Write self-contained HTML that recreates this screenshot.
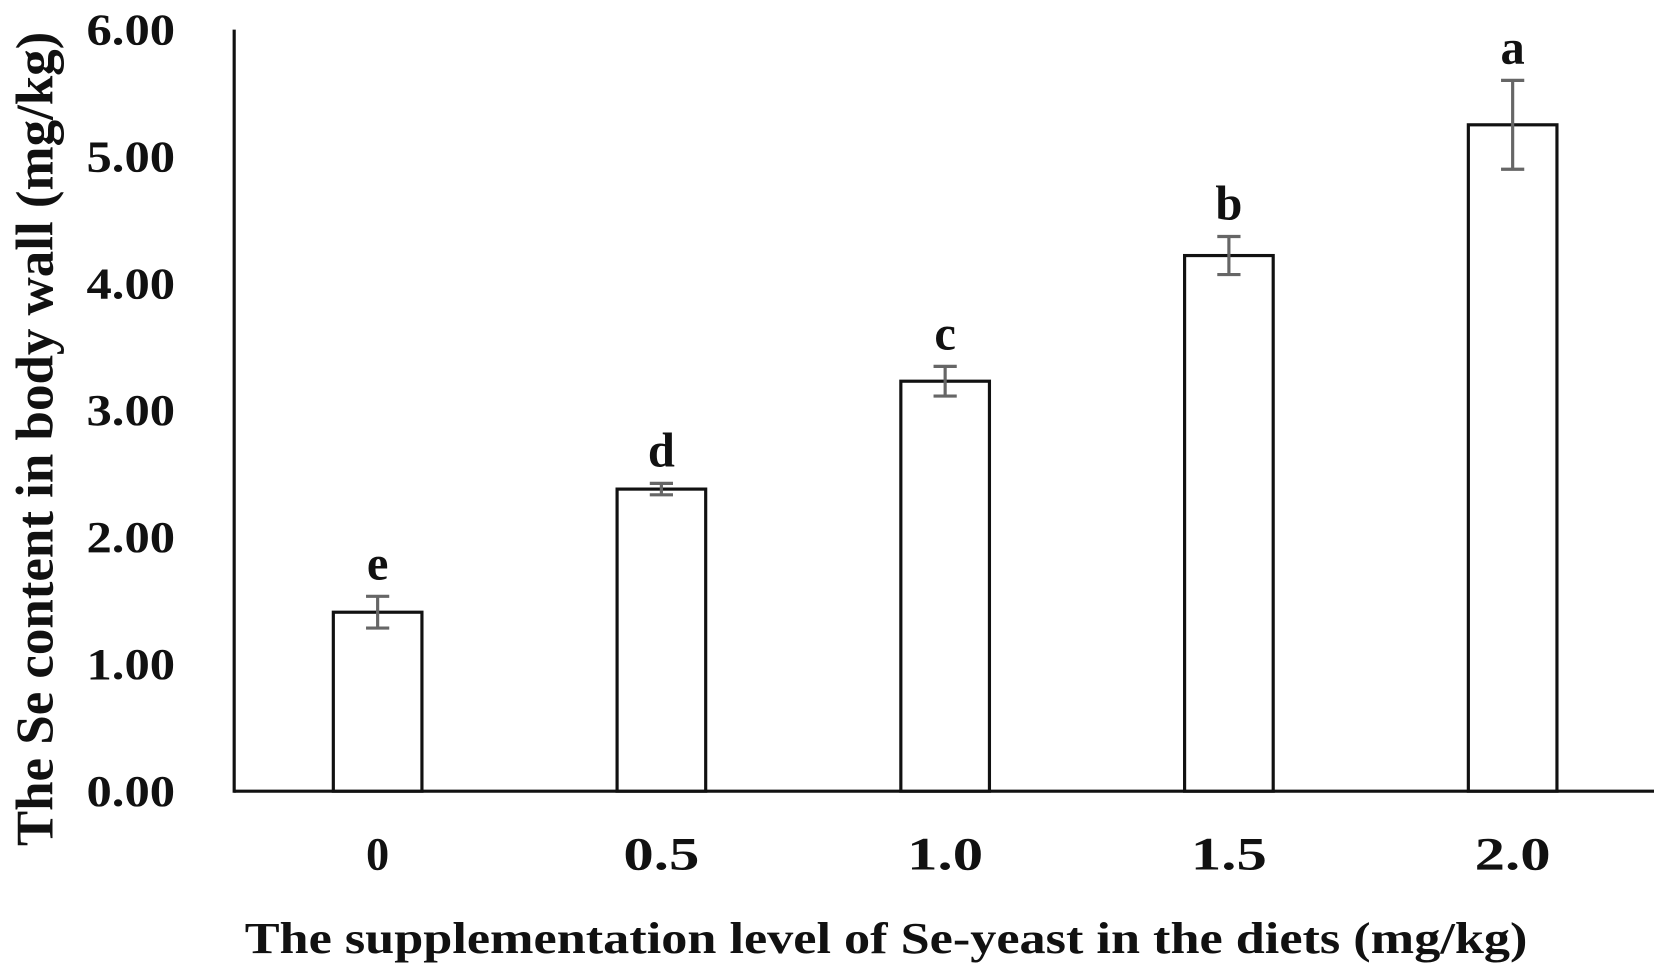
<!DOCTYPE html>
<html><head><meta charset="utf-8"><style>
html,body{margin:0;padding:0;background:#fff;}
svg{display:block;}
text{font-family:"Liberation Serif",serif;font-weight:bold;fill:#111;}
</style></head>
<body>
<svg id="chart" width="1654" height="971" viewBox="0 0 1568 918" preserveAspectRatio="none" xmlns="http://www.w3.org/2000/svg">
<g id="axes"></g>
<g id="bars"></g>
<text x="840" y="901" font-size="42" text-anchor="middle" textLength="1216" lengthAdjust="spacingAndGlyphs">The supplementation level of Se-yeast in the diets (mg/kg)</text>
<text transform="translate(50,415) rotate(-90)" font-size="50" text-anchor="middle" textLength="770" lengthAdjust="spacingAndGlyphs">The Se content in body wall (mg/kg)</text>
</svg>
<script>
const categories = ["0", "0.5", "1.0", "1.5", "2.0"];
const values = [1.41, 2.38, 3.23, 4.22, 5.25];
const errors = [0.125, 0.045, 0.117, 0.15, 0.35];
const letters = ["e", "d", "c", "b", "a"];
const yTicks = [0, 1, 2, 3, 4, 5, 6];
const yTickLabels = ["0.00", "1.00", "2.00", "3.00", "4.00", "5.00", "6.00"];

const NS = "http://www.w3.org/2000/svg";
const x0 = 222, x1 = 1568, yZero = 748, yTop = 28;
function yScale(v){ return yZero - (yZero - yTop) * v / 6; }
function xScale(i){ return 358 + i * 269; }
function mk(tag, attrs, parent){
  const el = document.createElementNS(NS, tag);
  for (const k in attrs) el.setAttribute(k, attrs[k]);
  parent.appendChild(el);
  return el;
}
const axes = document.getElementById("axes");
const bars = document.getElementById("bars");
let yAxis = mk("line", {x1:x0, y1:yTop, x2:x0, y2:yZero+1.5, stroke:"#111", "stroke-width":3}, axes);


let xAxis = mk("line", {x1:x0, y1:yZero, x2:x1, y2:yZero, stroke:"#111", "stroke-width":3}, axes);


yTicks.forEach((t, i) => {
  const tx = mk("text", {x:82, y:yScale(t)+14, "font-size":42, textLength:84, lengthAdjust:"spacingAndGlyphs"}, axes);
  tx.textContent = yTickLabels[i];
  
  
});
categories.forEach((c, i) => {
  const cx = xScale(i), w = 84;
  const top = yScale(values[i]);
  const r = mk("rect", {x:cx-w/2, y:top, width:w, height:yZero-top, fill:"#fff", stroke:"#111", "stroke-width":3}, bars);
  
  
  const eHi = yScale(values[i] + errors[i]), eLo = yScale(values[i] - errors[i]);
  const eg = mk("g", {stroke:"#666", "stroke-width":3}, bars);
  
  
  mk("line", {x1:cx, y1:eHi, x2:cx, y2:eLo}, eg);
  mk("line", {x1:cx-11, y1:eHi, x2:cx+11, y2:eHi}, eg);
  mk("line", {x1:cx-11, y1:eLo, x2:cx+11, y2:eLo}, eg);
  const lt = mk("text", {x:cx, y:eHi-16, "font-size":46, "text-anchor":"middle"}, bars);
  lt.textContent = letters[i];
  
  
  const xl = mk("text", {x:cx, y:822, "font-size":44, "text-anchor":"middle"}, axes);
  if (c.length > 1) { xl.setAttribute("textLength", 72); xl.setAttribute("lengthAdjust", "spacingAndGlyphs"); }
  xl.textContent = c;
  
  
});
</script>
</body></html>
